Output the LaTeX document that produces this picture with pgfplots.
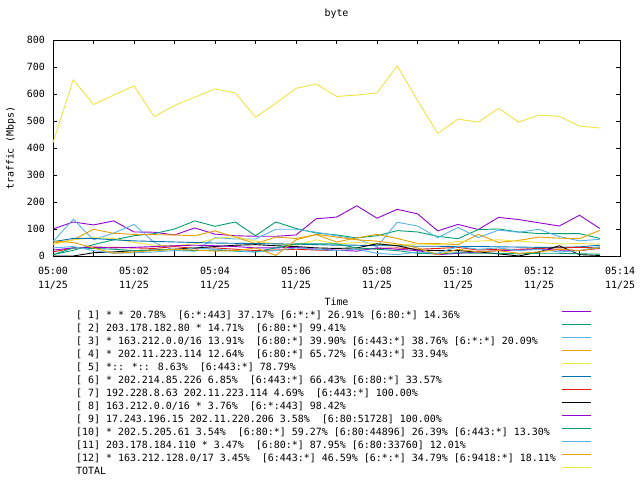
\documentclass[border=0pt]{standalone}
\usepackage{fontspec}
\setmainfont{DejaVu Sans Mono}
\usepackage{pgfplots}
\usepackage{pgfplotstable}
\pgfplotsset{compat=1.18}

% gnuplot default line colours
\definecolor{gp1}{HTML}{9400D3}
\definecolor{gp2}{HTML}{009E73}
\definecolor{gp3}{HTML}{56B4E9}
\definecolor{gp4}{HTML}{E69F00}
\definecolor{gp5}{HTML}{F0E442}
\definecolor{gp6}{HTML}{0072B2}
\definecolor{gp7}{HTML}{E51E10}
\definecolor{gp8}{HTML}{000000}

% t in minutes after 05:00
\pgfplotstableread{
t    s1  s2  s3  s4  s5  s6  s7  s8  s9  s10 s11 s12 total
0    100 5   53  47  43  53  15  0   22  5   30  55  420
0.5  126 21  136 60  60  65  30  0   30  30  35  50  653
1    115 42  60  99  68  65  33  12  32  28  20  30  561
1.5  130 60  85  84  65  60  32  15  30  25  10  10  596
2    89  75  117 80  50  56  30  20  32  20  12  15  630
2.5  88  83  50  79  40  54  28  22  35  22  15  20  516
3    78  100 20  78  38  52  35  25  38  25  20  25  558
3.5  104 130 18  75  45  50  28  30  40  20  30  22  588
4    81  110 68  93  65  48  30  35  38  22  25  18  619
4.5  75  126 63  70  72  47  25  40  35  18  20  20  604
5    73  75  63  46  55  46  20  42  30  15  15  30  514
5.5  73  126 99  70  45  45  22  38  30  30  20  2   565
6    78  102 99  65  40  44  25  35  32  45  30  60  621
6.5  138 85  88  79  60  42  22  30  25  45  25  80  637
7    144 78  75  52  45  40  20  28  22  45  20  70  591
7.5  186 67  63  67  50  40  25  30  18  30  25  60  596
8    140 75  35  80  45  38  28  45  30  25  10  55  604
8.5  173 94  125 65  40  38  30  38  25  20  5   45  704
9    156 89  111 46  45  36  25  22  20  10  15  30  576
9.5  93  73  68  46  42  36  28  20  5   8   10  5   454
10   117 64  106 42  54  35  32  20  10  12  35  25  507
10.5 98  98  68  80  55  35  22  15  15  10  25  15  496
11   143 100 96  50  60  34  25  8   20  10  30  20  547
11.5 135 89  88  58  55  33  25  0   22  8   20  10  496
12   123 83  99  70  50  32  28  15  25  10  25  15  522
12.5 111 83  72  66  45  32  30  38  22  10  15  25  517
13   151 83  56  64  46  34  32  5   20  8   20  20  481
13.5 102 65  62  95  44  40  30  2   28  7   35  30  474
}\bytedata

\begin{document}
\begin{tikzpicture}
\useasboundingbox (0bp,0bp) rectangle (640bp,480bp);
\begin{axis}[
    at={(53bp,224bp)}, anchor=south west,
    scale only axis,
    width=567bp, height=216bp,
    xmin=0, xmax=14, ymin=0, ymax=800,
    clip=false,
    xtick={0,1,...,14},
    xticklabels={{05:00\\11/25},{},{05:02\\11/25},{},{05:04\\11/25},{},{05:06\\11/25},{},{05:08\\11/25},{},{05:10\\11/25},{},{05:12\\11/25},{},{05:14\\11/25}},
    ytick={0,100,...,800},
    tick align=inside,
    major tick length=4.5bp,
    axis line style={line width=0.8bp},
    tick style={line width=0.8bp, black},
    /pgf/number format/assume math mode=true,
    ticklabel style={font=\fontsize{10}{14.5}\selectfont},
    xticklabel style={align=center, inner sep=0pt, anchor=north, yshift=-10.5bp},
    yticklabel style={anchor=east, inner sep=0pt, xshift=-8bp},
    title={byte},
    title style={font=\fontsize{10}{12}\selectfont, at={(axis description cs:0.5,1.0926)}, anchor=center, yshift=0pt},
    xlabel={Time},
    xlabel style={font=\fontsize{10}{12}\selectfont, at={(axis description cs:0.5,-0.2130)}, anchor=center},
    ylabel={traffic (Mbps)},
    ylabel style={font=\fontsize{10}{12}\selectfont, at={(axis description cs:-0.0741,0.5)}, anchor=center},
    every axis plot/.append style={line width=0.9bp, no markers},
    legend cell align=left,
    legend plot pos=right,
    legend image code/.code={\draw[#1] (0bp,3.5bp) -- (29bp,3.5bp);},
    legend style={at={(axis description cs:0.0406,-0.2435)}, anchor=north west,
        draw=none, fill=none, inner sep=0pt, outer sep=0pt,
        row sep=0pt, column sep=6bp,
        font=\fontsize{10}{13}\selectfont,
        nodes={inner sep=0pt, text height=9.5bp, text depth=3.5bp}},
]
\addplot[gp1] table[x=t, y=s1] {\bytedata};
\addlegendentry{[ 1] * * 20.78\%~ [6:*:443] 37.17\% [6:*:*] 26.91\% [6:80:*] 14.36\%}
\addplot[gp2] table[x=t, y=s2] {\bytedata};
\addlegendentry{[ 2] 203.178.182.80 * 14.71\%~ [6:80:*] 99.41\%}
\addplot[gp3] table[x=t, y=s3] {\bytedata};
\addlegendentry{[ 3] * 163.212.0.0/16 13.91\%~ [6:80:*] 39.90\% [6:443:*] 38.76\% [6:*:*] 20.09\%}
\addplot[gp4] table[x=t, y=s4] {\bytedata};
\addlegendentry{[ 4] * 202.11.223.114 12.64\%~ [6:80:*] 65.72\% [6:443:*] 33.94\%}
\addplot[gp5] table[x=t, y=s5] {\bytedata};
\addlegendentry{[ 5] *:: *:: 8.63\%~ [6:443:*] 78.79\%}
\addplot[gp6] table[x=t, y=s6] {\bytedata};
\addlegendentry{[ 6] * 202.214.85.226 6.85\%~ [6:443:*] 66.43\% [6:80:*] 33.57\%}
\addplot[gp7] table[x=t, y=s7] {\bytedata};
\addlegendentry{[ 7] 192.228.8.63 202.11.223.114 4.69\%~ [6:443:*] 100.00\%}
\addplot[gp8] table[x=t, y=s8] {\bytedata};
\addlegendentry{[ 8] 163.212.0.0/16 * 3.76\%~ [6:*:443] 98.42\%}
\addplot[gp1] table[x=t, y=s9] {\bytedata};
\addlegendentry{[ 9] 17.243.196.15 202.11.220.206 3.58\%~ [6:80:51728] 100.00\%}
\addplot[gp2] table[x=t, y=s10] {\bytedata};
\addlegendentry{[10] * 202.5.205.61 3.54\%~ [6:80:*] 59.27\% [6:80:44896] 26.39\% [6:443:*] 13.30\%}
\addplot[gp3] table[x=t, y=s11] {\bytedata};
\addlegendentry{[11] 203.178.184.110 * 3.47\%~ [6:80:*] 87.95\% [6:80:33760] 12.01\%}
\addplot[gp4] table[x=t, y=s12] {\bytedata};
\addlegendentry{[12] * 163.212.128.0/17 3.45\%~ [6:443:*] 46.59\% [6:*:*] 34.79\% [6:9418:*] 18.11\%}
\addplot[gp5] table[x=t, y=total] {\bytedata};
\addlegendentry{TOTAL}
\end{axis}
\end{tikzpicture}
\end{document}
